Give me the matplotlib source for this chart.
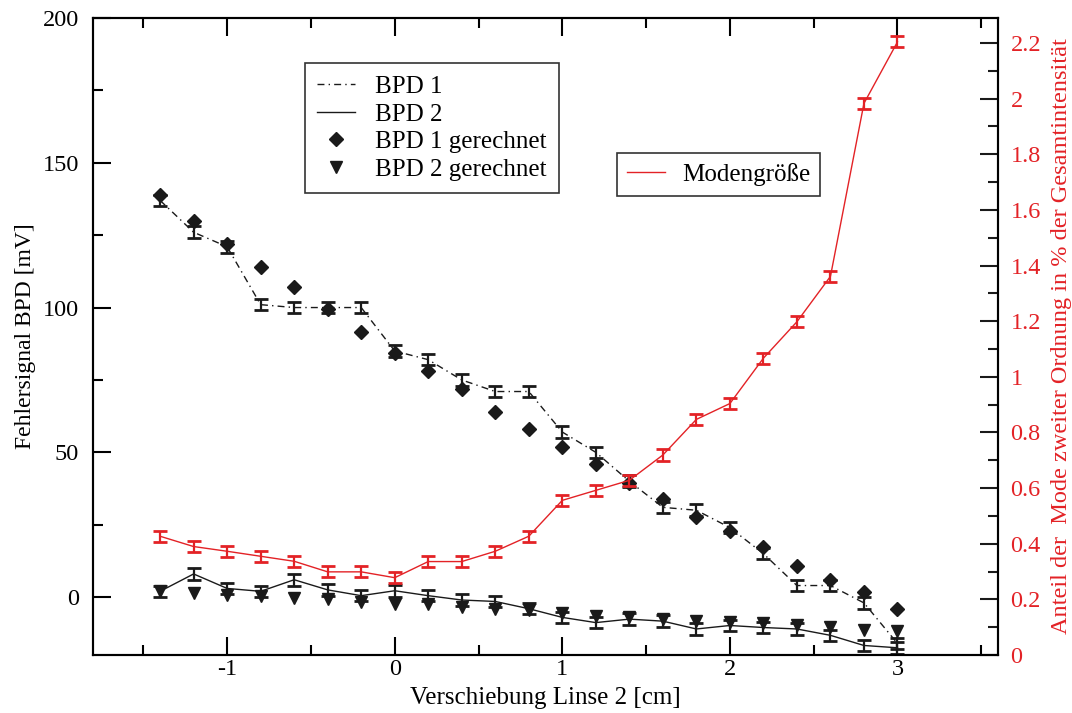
import matplotlib
matplotlib.use("Agg")
import matplotlib.pyplot as plt
from matplotlib.lines import Line2D
from matplotlib.ticker import MultipleLocator

plt.rcParams['font.family'] = ['Liberation Serif', 'DejaVu Serif']
plt.rcParams['font.size'] = 18
plt.rcParams['axes.unicode_minus'] = False

# Daten
x = [-1.4, -1.2, -1.0, -0.8, -0.6, -0.4, -0.2, 0.0, 0.2, 0.4, 0.6, 0.8,
     1.0, 1.2, 1.4, 1.6, 1.8, 2.0, 2.2, 2.4, 2.6, 2.8, 3.0]

bpd1 = [137, 126, 121, 101, 100, 100, 100, 85, 82, 75, 71, 71,
        57, 50, 40, 31, 30, 24, 15, 4, 4, -2, -16]
bpd2 = [2, 8, 3, 2, 6, 2.5, 0.5, 2.2, 0.5, -1, -1.5, -4,
        -7, -8.8, -7.6, -8.3, -11, -9.8, -10.5, -11, -13.2, -16.7, -17.5]
bpd1_calc = [139, 130, 122, 114, 107, 99.6, 91.5, 84.2, 78, 72, 64, 58,
             52, 46, 39.5, 33.8, 27.7, 23, 17.4, 10.7, 6, 1.8, -4.2]
bpd2_calc = [2, 1.5, 0.7, 0.3, -0.2, -0.7, -1.7, -2.3, -2.5, -3.5, -4, -4.3,
             -5.6, -6.6, -6.9, -7.4, -8.1, -8.7, -8.9, -9.5, -10.4, -11.2, -11.8]
bpd_err = 2.0

mode = [0.427, 0.39, 0.373, 0.355, 0.337, 0.299, 0.299, 0.278, 0.336, 0.336, 0.373, 0.427,
        0.556, 0.592, 0.628, 0.719, 0.847, 0.904, 1.067, 1.198, 1.361, 1.983, 2.204]
mode_err = 0.02

red = '#e32226'
blk = '#1a1a1a'

fig, ax = plt.subplots(figsize=(10.72, 7.13), dpi=100)
fig.subplots_adjust(left=0.0868, right=0.931, top=0.9748, bottom=0.0813)

ax.errorbar(x, bpd1, yerr=bpd_err, color=blk, lw=1.0, ls=(0, (5, 3, 1, 3)),
            capsize=5, capthick=2, elinewidth=1.6)
ax.errorbar(x, bpd2, yerr=bpd_err, color=blk, lw=1.0, ls='-',
            capsize=5, capthick=2, elinewidth=1.6)
ax.plot(x, bpd1_calc, 'D', color=blk, ms=7, ls='none')
ax.plot(x, bpd2_calc, 'v', color=blk, ms=9, ls='none')

ax.set_xlim(-1.8, 3.6)
ax.set_ylim(-20, 200)
ax.xaxis.set_major_locator(MultipleLocator(1))
ax.xaxis.set_minor_locator(MultipleLocator(0.5))
ax.yaxis.set_major_locator(MultipleLocator(50))
ax.yaxis.set_minor_locator(MultipleLocator(25))
ax.tick_params(which='both', direction='in', top=True, right=False, width=1.5,
               labelsize=17.5)
ax.tick_params(which='major', length=13)
ax.tick_params(which='minor', length=7)
ax.tick_params(axis='y', pad=10)
ax.tick_params(axis='x', pad=3)
ax.set_xlabel('Verschiebung Linse 2 [cm]', labelpad=5)
ax.set_ylabel('Fehlersignal BPD [mV]', fontsize=17, labelpad=5)
for s in ax.spines.values():
    s.set_linewidth(1.5)

ax2 = ax.twinx()
ax2.errorbar(x, mode, yerr=mode_err, color=red, lw=1.0,
             capsize=5, capthick=2, elinewidth=1.6)
ax2.set_ylim(0, 2.29)
ax2.yaxis.set_major_locator(MultipleLocator(0.2))
ax2.yaxis.set_minor_locator(MultipleLocator(0.1))
ax2.set_yticks([0, 0.2, 0.4, 0.6, 0.8, 1.0, 1.2, 1.4, 1.6, 1.8, 2.0, 2.2])
ax2.set_yticklabels(['0', '0.2', '0.4', '0.6', '0.8', '1', '1.2', '1.4', '1.6', '1.8', '2', '2.2'])
ax2.tick_params(which='both', direction='in', colors=blk, labelcolor=red, width=1.5,
                labelsize=17.5, pad=9)
ax2.tick_params(which='major', length=13)
ax2.tick_params(which='minor', length=7)
ax2.set_ylabel('Anteil der  Mode zweiter Ordnung in % der Gesamtintensität',
               color=red, fontsize=17.5, labelpad=7)
for s in ax2.spines.values():
    s.set_linewidth(1.5)

h1 = [Line2D([], [], color=blk, lw=1.0, ls=(0, (5, 3, 1, 3))),
      Line2D([], [], color=blk, lw=1.0, ls='-'),
      Line2D([], [], color=blk, marker='D', ms=7, ls='none'),
      Line2D([], [], color=blk, marker='v', ms=9, ls='none')]
leg1 = ax2.legend(h1, ['BPD 1', 'BPD 2', 'BPD 1 gerechnet', 'BPD 2 gerechnet'],
                  loc='upper left', bbox_to_anchor=(0.234, 0.929), borderaxespad=0,
                  fancybox=False, edgecolor='#333333', framealpha=1,
                  handlelength=1.5, handletextpad=0.8, labelspacing=0.2, borderpad=0.5)
leg1.get_frame().set_linewidth(1.2)
ax2.add_artist(leg1)

h2 = [Line2D([], [], color=red, lw=1.0)]
leg2 = ax2.legend(h2, ['Modengröße'], loc='upper left', bbox_to_anchor=(0.579, 0.788),
                  borderaxespad=0, fancybox=False, edgecolor='#333333', framealpha=1,
                  handlelength=1.5, handletextpad=0.7, borderpad=0.4)
leg2.get_frame().set_linewidth(1.2)

fig.savefig('out.png', dpi=100)
